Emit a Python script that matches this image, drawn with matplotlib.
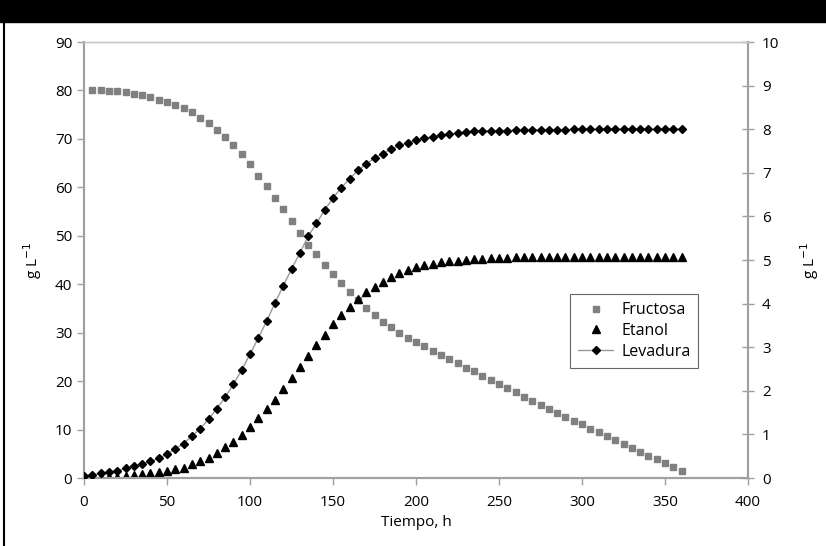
import matplotlib
matplotlib.use("Agg")
import matplotlib.pyplot as plt
from matplotlib.lines import Line2D

plt.rcParams['font.family'] = ['Open Sans', 'DejaVu Sans']

# time (h)
t_fructosa = list(range(5, 361, 5))
t_ferm = list(range(0, 361, 5))

# g/L, left axis
fructosa = [80.2, 80.1, 79.9, 79.9, 79.7, 79.2, 79.1, 78.6, 78.1, 77.7,
            77.0, 76.3, 75.5, 74.4, 73.2, 71.8, 70.3, 68.7, 66.8, 64.8,
            62.4, 60.3, 57.9, 55.5, 53.1, 50.6, 48.2, 46.2, 44.0, 42.1,
            40.3, 38.5, 36.7, 35.1, 33.6, 32.3, 31.1, 30.0, 29.0, 28.1,
            27.2, 26.3, 25.4, 24.5, 23.7, 22.8, 22.0, 21.1, 20.3, 19.4,
            18.5, 17.7, 16.8, 16.0, 15.1, 14.3, 13.4, 12.5, 11.8, 11.1,
            10.2, 9.4, 8.7, 7.8, 7.0, 6.3, 5.4, 4.6, 3.9, 3.0,
            2.2, 1.5]

etanol = [0.0, 0.07, 0.14, 0.28, 0.28, 0.41, 0.62, 0.83, 0.96, 1.17,
          1.38, 1.8, 2.13, 2.82, 3.51, 4.13, 5.09, 6.33, 7.5, 8.9,
          10.5, 12.3, 14.2, 16.2, 18.3, 20.7, 22.9, 25.2, 27.5, 29.6,
          31.7, 33.6, 35.4, 37.0, 38.3, 39.5, 40.5, 41.4, 42.3, 42.9,
          43.5, 44.0, 44.2, 44.5, 44.8, 44.9, 45.1, 45.2, 45.3, 45.4,
          45.5, 45.5, 45.6, 45.6, 45.6, 45.7, 45.7, 45.7, 45.7, 45.7,
          45.7, 45.7, 45.7, 45.7, 45.7, 45.7, 45.7, 45.7, 45.7, 45.7,
          45.7, 45.7, 45.7]

# g/L, right axis
levadura = [0.05, 0.07, 0.11, 0.13, 0.17, 0.22, 0.28, 0.32, 0.38, 0.45,
            0.55, 0.67, 0.79, 0.96, 1.13, 1.35, 1.59, 1.85, 2.15, 2.48,
            2.84, 3.21, 3.60, 4.01, 4.41, 4.79, 5.16, 5.54, 5.84, 6.15,
            6.42, 6.66, 6.86, 7.06, 7.20, 7.34, 7.44, 7.54, 7.63, 7.69,
            7.76, 7.79, 7.83, 7.86, 7.89, 7.91, 7.93, 7.95, 7.96, 7.96,
            7.97, 7.97, 7.98, 7.98, 7.98, 7.99, 7.99, 7.99, 7.99, 8.0,
            8.0, 8.0, 8.0, 8.0, 8.0, 8.0, 8.0, 8.0, 8.0, 8.0,
            8.0, 8.0, 8.0]

axis_grey = '#a0a0a0'

fig = plt.figure(figsize=(8.26, 5.46), dpi=100)
ax = fig.add_axes([0.1017, 0.1245, 0.8039, 0.7985])
ax2 = ax.twinx()

ax.plot(t_fructosa, fructosa, linestyle='none', marker='s', markersize=5,
        color='#808080', zorder=3)
ax.plot(t_ferm, etanol, linestyle='none', marker='^', markersize=5.5,
        color='black', zorder=3)
ax2.plot(t_ferm, levadura, linestyle='-', linewidth=1, color='#9a9a9a',
         marker='D', markersize=4.0, markerfacecolor='black',
         markeredgecolor='black', zorder=4)

ax.set_xlim(0, 400)
ax.set_ylim(0, 90)
ax2.set_ylim(0, 10)
ax.set_xticks(range(0, 401, 50))
ax.set_yticks(range(0, 91, 10))
ax2.set_yticks(range(0, 11, 1))

for a in (ax, ax2):
    for s in a.spines.values():
        s.set_color(axis_grey)
        s.set_linewidth(1.5)
    a.spines['top'].set_linewidth(1.0)
    a.spines['top'].set_color('#c8c8c8')
ax.tick_params(axis='both', colors=axis_grey, labelcolor='black', labelsize=11,
               length=5, width=1)
ax.tick_params(axis='x', pad=7)
ax2.tick_params(axis='y', colors=axis_grey, labelcolor='black', labelsize=11,
                direction='inout', length=8, width=1, pad=6)

ax.set_xlabel('Tiempo, h', fontsize=11, labelpad=4)
ax.set_ylabel('g L$^{-1}$', fontsize=11, labelpad=8)
ax2.set_ylabel('g L$^{-1}$', fontsize=11, rotation=90, labelpad=14)

handles = [
    Line2D([], [], linestyle='none', marker='s', markersize=5, color='#808080'),
    Line2D([], [], linestyle='none', marker='^', markersize=5.5, color='black'),
    Line2D([], [], linestyle='-', linewidth=1, color='#9a9a9a', marker='D',
           markersize=4.0, markerfacecolor='black', markeredgecolor='black'),
]
leg = ax2.legend(handles, ['Fructosa', 'Etanol', 'Levadura'],
                 loc='upper left', bbox_to_anchor=(0.72, 0.44), fontsize=11.5,
                 frameon=True, fancybox=False, handlelength=2.2,
                 borderpad=0.5, labelspacing=0.3, handletextpad=0.5)
leg.get_frame().set_edgecolor('#404040')
leg.get_frame().set_linewidth(0.8)

# black band on top and left border line
fig.patches.append(plt.Rectangle((0, 0.96), 1, 0.04, transform=fig.transFigure,
                                 color='black', zorder=0))
fig.add_artist(Line2D([0.005, 0.005], [0, 0.96], transform=fig.transFigure,
                      color='black', linewidth=1.5))

fig.savefig('out.png', dpi=100)
